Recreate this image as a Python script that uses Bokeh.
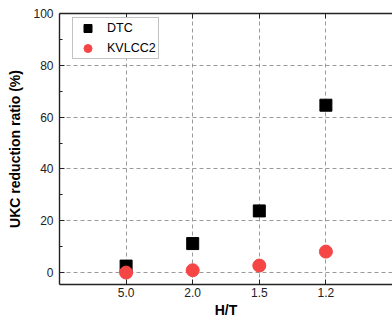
from bokeh.plotting import figure
from bokeh.models import (FixedTicker, LinearAxis, Range1d, Legend, LegendItem, ColumnDataSource)
from bokeh.embed import file_html
from bokeh.resources import INLINE

categories = ["5.0", "2.0", "1.5", "1.2"]
dtc = [2.5, 11.2, 23.8, 64.6]
kvlcc2 = [0.0, 0.9, 2.7, 8.1]
y_ticks = [0, 20, 40, 60, 80, 100]
y_minor = [10, 30, 50, 70, 90]

xpos = list(range(1, len(categories) + 1))
FONT = "Liberation Sans"

p = figure(width=392, height=322, output_backend="svg", toolbar_location=None,
           x_range=Range1d(0, 5), y_range=Range1d(-4.6, 100),
           min_border_left=59, min_border_right=0, min_border_top=13, min_border_bottom=38,
           x_axis_label="H/T", y_axis_label="UKC reduction ratio (%)")
p.outline_line_color = None
p.background_fill_color = "white"
p.border_fill_color = "white"

src_d = ColumnDataSource(dict(x=xpos, y=dtc))
src_k = ColumnDataSource(dict(x=xpos, y=kvlcc2))
r1 = p.scatter("x", "y", source=src_d, marker="square", size=12, color="black")
r2 = p.scatter("x", "y", source=src_k, marker="circle", size=13, color="#f54545")

for ax in [p.xaxis[0], p.yaxis[0]]:
    ax.major_tick_in = 5
    ax.major_tick_out = 0
    ax.minor_tick_in = 3
    ax.minor_tick_out = 0
    ax.axis_line_width = 1.4
    ax.axis_line_color = "#222222"
    ax.major_tick_line_color = "#222222"
    ax.minor_tick_line_color = "#222222"
    ax.major_label_text_font = FONT
    ax.major_label_text_font_size = "12px"
    ax.major_label_text_color = "#222222"
    ax.axis_label_text_font = FONT
    ax.axis_label_text_font_size = "14px"
    ax.axis_label_text_font_style = "bold"
    ax.axis_label_text_color = "black"

p.xaxis[0].ticker = FixedTicker(ticks=xpos)
p.xaxis[0].major_label_overrides = {i: c for i, c in zip(xpos, categories)}
p.xaxis[0].minor_tick_line_color = None
p.xaxis[0].major_label_standoff = 3
p.xaxis[0].axis_label_standoff = 2
p.yaxis[0].ticker = FixedTicker(ticks=y_ticks, minor_ticks=y_minor)
p.yaxis[0].major_label_standoff = 6
p.yaxis[0].axis_label_standoff = 7

top = LinearAxis(ticker=FixedTicker(ticks=xpos), major_label_text_color=None,
                 major_label_text_font_size="1px",
                 major_tick_in=5, major_tick_out=0, minor_tick_line_color=None,
                 axis_line_width=1.4, axis_line_color="#222222",
                 major_tick_line_color="#222222", major_label_standoff=0)
p.add_layout(top, "above")

p.xgrid.ticker = FixedTicker(ticks=xpos)
p.ygrid.ticker = FixedTicker(ticks=y_ticks)
for g in [p.xgrid[0], p.ygrid[0]]:
    g.grid_line_color = "#9a9a9a"
    g.grid_line_dash = "4 3"
    g.grid_line_width = 1

legend = Legend(items=[LegendItem(label="DTC", renderers=[r1]),
                       LegendItem(label="KVLCC2", renderers=[r2])],
                location=(13, 225))
legend.label_text_font = FONT
legend.label_text_font_size = "12.5px"
legend.label_text_color = "black"
legend.border_line_color = "#888888"
legend.border_line_width = 1
legend.padding = 0
legend.margin = 0
legend.spacing = -4
legend.glyph_width = 29
legend.glyph_height = 20
legend.label_height = 14
legend.label_width = 51
legend.label_standoff = 5
legend.background_fill_alpha = 1
p.add_layout(legend, "center")

open("out.html", "w").write(file_html(p, INLINE))
